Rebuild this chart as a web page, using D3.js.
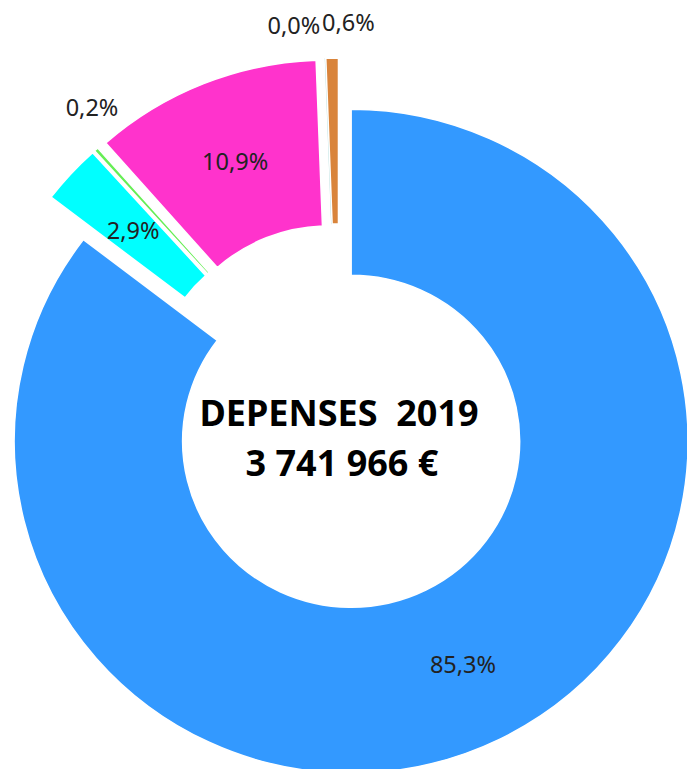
<!DOCTYPE html>
<html>
<head>
<meta charset="utf-8">
<script src="https://cdn.jsdelivr.net/npm/d3@7"></script>
<style>
  body { margin: 0; background: #fff; }
  #chart { width: 687px; height: 769px; }
</style>
</head>
<body>
<div id="chart"></div>
<script>
// Dépenses 2019, share of each post (%)
const categories = ['Poste 1', 'Poste 2', 'Poste 3', 'Poste 4', 'Poste 5', 'Poste 6'];
const values = [85.3, 2.9, 0.2, 10.9, 0.0, 0.6];
const colors = ['#3399FF', '#00FFFF', '#66EE55', '#FF33CC', '#A8D8D8', '#D9843B'];
const title = 'DEPENSES  2019';
const total = 3741966;

const width = 687, height = 769;
const cx = 339, cy = 417;
const outerR = 332, innerR = 166;
const xStretch = 1.015;   // picture is slightly wider than tall
const explode = 27;

// small nudges for the labels that sit outside the ring
const labelShift = [[0, 0], [0, 0], [20, -16], [0, 0], [-30, 3], [17, 0]];

const fr = d3.formatLocale({ decimal: ',', thousands: '\u00a0', grouping: [3], currency: ['', '\u00a0€'] });
const pct = d => fr.format('.1f')(d) + '%';

const svg = d3.select('#chart')
  .append('svg')
  .attr('width', width)
  .attr('height', height);

const pie = d3.pie().sort(null).value(d => d.value);
const arcs = pie(categories.map((c, i) => ({ name: c, value: values[i], color: colors[i] })));

const arc = d3.arc().innerRadius(innerR).outerRadius(outerR);

const ring = svg.append('g')
  .attr('transform', `translate(${cx},${cy}) scale(${xStretch},1)`);

const mid = d => (d.startAngle + d.endAngle) / 2;

ring.selectAll('path')
  .data(arcs)
  .join('path')
  .attr('d', arc)
  .attr('transform', d => `translate(${Math.sin(mid(d)) * explode},${-Math.cos(mid(d)) * explode})`)
  .attr('fill', d => d.data.color)
  .attr('stroke', d => d.data.value === 0 ? d.data.color : '#fff')
  .attr('stroke-width', d => d.data.value === 0 ? 1 : 1.5);

// data labels: inside the ring when the slice is big enough, outside otherwise
const inR = (innerR + outerR) / 2;
const outR = outerR + 36;
const labelR = d => d.data.value >= 1 ? inR : outR;

svg.append('g')
  .selectAll('text')
  .data(arcs)
  .join('text')
  .attr('x', (d, i) => cx + Math.sin(mid(d)) * (labelR(d) * xStretch + explode) + labelShift[i][0])
  .attr('y', (d, i) => cy - Math.cos(mid(d)) * (labelR(d) + explode) + labelShift[i][1])
  .attr('text-anchor', 'middle')
  .attr('dominant-baseline', 'central')
  .style('font-family', '"Noto Sans", sans-serif')
  .style('font-size', '23.5px')
  .style('fill', '#222')
  .text(d => pct(d.data.value));

// centre text
const centre = svg.append('g')
  .style('font-family', '"Noto Sans", sans-serif')
  .style('font-weight', 'bold')
  .style('font-size', '36px')
  .style('fill', '#000')
  .attr('text-anchor', 'middle');

centre.append('text')
  .attr('x', cx)
  .attr('y', cy + 9)
  .style('white-space', 'pre')
  .text(title);

centre.append('text')
  .attr('x', cx + 3)
  .attr('y', cy + 59)
  .text(fr.format('$,')(total));
</script>
</body>
</html>
